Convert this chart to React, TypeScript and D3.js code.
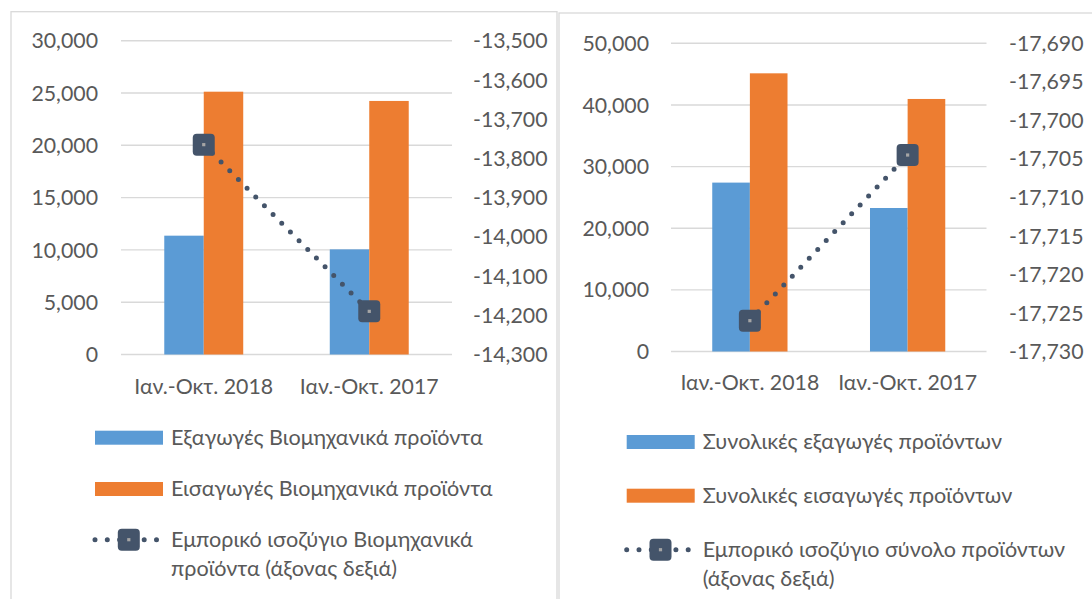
import React from "react";
import * as d3 from "d3";

// categories and values
const categories = ["Ιαν.-Οκτ. 2018", "Ιαν.-Οκτ. 2017"];

const industrialExports = [11360, 10050];
const industrialImports = [25125, 24240];
const industrialBalance = [-13765, -14190];

const totalExports = [27400, 23280];
const totalImports = [45130, 40970];
const totalBalance = [-17726, -17704.5];

const industrialLeftTicks = [0, 5000, 10000, 15000, 20000, 25000, 30000];
const industrialRightTicks = [-14300, -14200, -14100, -14000, -13900, -13800, -13700, -13600, -13500];
const totalLeftTicks = [0, 10000, 20000, 30000, 40000, 50000];
const totalRightTicks = [-17730, -17725, -17720, -17715, -17710, -17705, -17700, -17695, -17690];

const industrialLegend = [
  "Εξαγωγές Βιομηχανικά προϊόντα",
  "Εισαγωγές Βιομηχανικά προϊόντα",
  ["Εμπορικό ισοζύγιο Βιομηχανικά", "προϊόντα (άξονας δεξιά)"],
];
const totalLegend = [
  "Συνολικές εξαγωγές προϊόντων",
  "Συνολικές εισαγωγές προϊόντων",
  ["Εμπορικό ισοζύγιο σύνολο προϊόντων", "(άξονας δεξιά)"],
];

const BLUE = "#5B9BD5";
const ORANGE = "#ED7D31";
const LINE = "#44546A";
const GRID = "#D9D9D9";
const TEXT = "#595959";
const FONT = "Lato, 'Open Sans', sans-serif";
const LEG_FS = 21.6;

const fmt = d3.format(",");

type PanelProps = {
  frame: [number, number, number];
  xRange: [number, number];
  yRange: [number, number];
  leftTicks: number[];
  rightTicks: number[];
  exportsV: number[];
  importsV: number[];
  balance: number[];
  leftLabelX: number;
  rightLabelX: number;
  catLabelY: number;
  legend: (string | string[])[];
  legendX: number;
  legendRows: number[];
};

function Panel(p: PanelProps) {
  const x0 = d3.scaleBand<string>().domain(categories).range(p.xRange).padding(0);
  const x1 = d3
    .scaleBand<string>()
    .domain(["exp", "imp"])
    .range([0, x0.bandwidth()])
    .paddingInner(0)
    .paddingOuter(1.096);
  const yL = d3
    .scaleLinear()
    .domain([p.leftTicks[0], p.leftTicks[p.leftTicks.length - 1]])
    .range(p.yRange);
  const yR = d3
    .scaleLinear()
    .domain([p.rightTicks[0], p.rightTicks[p.rightTicks.length - 1]])
    .range(p.yRange);

  const pts: [number, number][] = p.balance.map((v, i) => [
    (x0(categories[i]) as number) + x0.bandwidth() / 2,
    yR(v),
  ]);
  const path = d3.line()(pts) as string;

  const lx = p.legendX;
  return (
    <g>
      <rect x={p.frame[0]} y={p.frame[1]} width={p.frame[2]} height={700} fill="#fff" stroke={GRID} strokeWidth={1.3} />
      {p.leftTicks.map((t) => (
        <g key={"l" + t}>
          <line x1={p.xRange[0]} x2={p.xRange[1]} y1={yL(t)} y2={yL(t)} stroke={GRID} strokeWidth={1.4} />
          <text x={p.leftLabelX} y={yL(t) + 7.6} textAnchor="end" fontSize={21.3} fill={TEXT}>
            {fmt(t)}
          </text>
        </g>
      ))}
      {p.rightTicks.map((t) => (
        <text key={"r" + t} x={p.rightLabelX} y={yR(t) + 7.6} textAnchor="start" fontSize={21.3} fill={TEXT}>
          {fmt(t).replace("−", "-")}
        </text>
      ))}
      {categories.map((c, i) => (
        <g key={c}>
          <rect
            x={(x0(c) as number) + (x1("exp") as number)}
            y={yL(p.exportsV[i])}
            width={x1.bandwidth()}
            height={yL(0) - yL(p.exportsV[i])}
            fill={BLUE}
          />
          <rect
            x={(x0(c) as number) + (x1("imp") as number)}
            y={yL(p.importsV[i])}
            width={x1.bandwidth()}
            height={yL(0) - yL(p.importsV[i])}
            fill={ORANGE}
          />
          <text x={(x0(c) as number) + x0.bandwidth() / 2} y={p.catLabelY} textAnchor="middle" fontSize={21.3} fill={TEXT}>
            {c}
          </text>
        </g>
      ))}
      <path d={path} fill="none" stroke={LINE} strokeWidth={5} strokeLinecap="round" strokeDasharray="0 12.3" />
      {pts.map(([cx, cy], i) => (
        <g key={i}>
          <rect x={cx - 11} y={cy - 11} width={22} height={22} rx={4} fill={LINE} />
          <rect x={cx - 1.6} y={cy - 1.6} width={3.2} height={3.2} fill="#A5A5A5" />
        </g>
      ))}
      {/* legend */}
      <rect x={lx} y={p.legendRows[0] - 14} width={68} height={14} fill={BLUE} />
      <text x={lx + 76} y={p.legendRows[0]} fontSize={LEG_FS} fill={TEXT}>
        {p.legend[0] as string}
      </text>
      <rect x={lx} y={p.legendRows[1] - 14} width={68} height={14} fill={ORANGE} />
      <text x={lx + 76} y={p.legendRows[1]} fontSize={LEG_FS} fill={TEXT}>
        {p.legend[1] as string}
      </text>
      <line
        x1={lx}
        x2={lx + 61.6}
        y1={p.legendRows[2] - 7}
        y2={p.legendRows[2] - 7}
        stroke={LINE}
        strokeWidth={5}
        strokeLinecap="round"
        strokeDasharray="0 12.3"
      />
      <rect x={lx + 22.8} y={p.legendRows[2] - 18} width={22} height={22} rx={4} fill={LINE} />
      <rect x={lx + 32.2} y={p.legendRows[2] - 8.6} width={3.2} height={3.2} fill="#A5A5A5" />
      {(p.legend[2] as string[]).map((s, k) => (
        <text key={k} x={lx + 76} y={p.legendRows[2] + k * 29} fontSize={LEG_FS} fill={TEXT}>
          {s}
        </text>
      ))}
    </g>
  );
}

export default function App() {
  return (
    <div style={{ position: "absolute", left: 0, top: 0 }}>
      <svg width={1092} height={599} style={{ display: "block", fontFamily: FONT, background: "#fff" }}>
        <rect width={1092} height={599} fill="#fff" />
        <Panel
          frame={[11, 11.7, 546]}
          xRange={[121, 452]}
          yRange={[354.5, 40.7]}
          leftTicks={industrialLeftTicks}
          rightTicks={industrialRightTicks}
          exportsV={industrialExports}
          importsV={industrialImports}
          balance={industrialBalance}
          leftLabelX={98}
          rightLabelX={473}
          catLabelY={394}
          legend={industrialLegend}
          legendX={95}
          legendRows={[444.7, 496, 546.7]}
        />
        <Panel
          frame={[559, 13, 600]}
          xRange={[671, 986.5]}
          yRange={[351.5, 43.3]}
          leftTicks={totalLeftTicks}
          rightTicks={totalRightTicks}
          exportsV={totalExports}
          importsV={totalImports}
          balance={totalBalance}
          leftLabelX={649}
          rightLabelX={1009}
          catLabelY={390}
          legend={totalLegend}
          legendX={626.7}
          legendRows={[449, 502.7, 556.7]}
        />
      </svg>
    </div>
  );
}
